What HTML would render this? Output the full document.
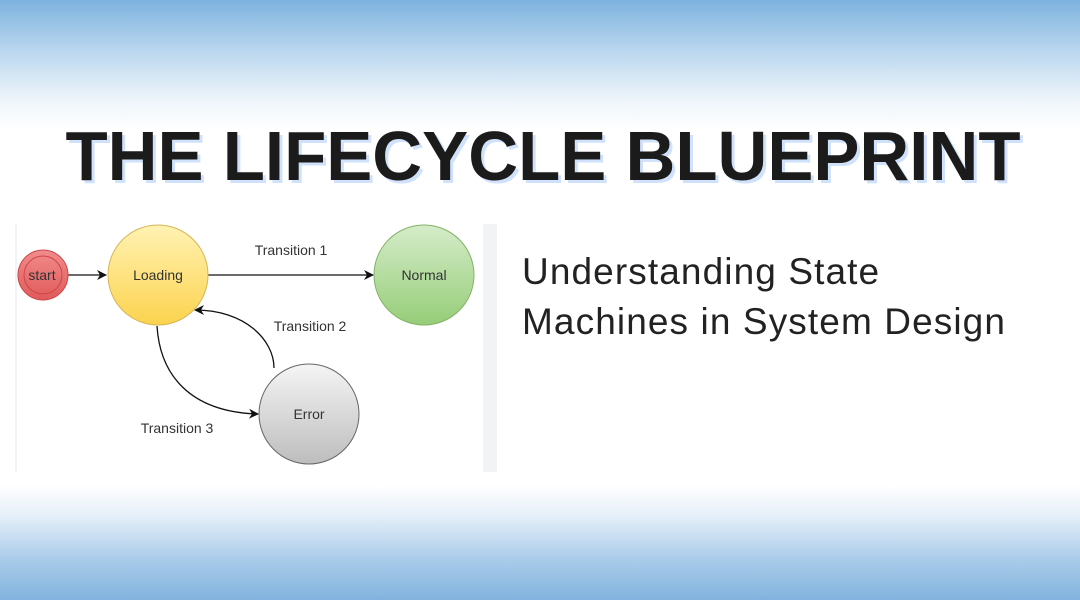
<!DOCTYPE html>
<html><head><meta charset="utf-8"><style>
html,body{margin:0;padding:0}
body{width:1080px;height:600px;position:relative;overflow:hidden;font-family:"Liberation Sans",sans-serif;
background:linear-gradient(180deg,#7db2de 0px,#b9d6ee 50px,#eef5fb 100px,#ffffff 130px,#ffffff 485px,#e6f0f9 515px,#a9cbe9 560px,#82b3de 600px);}
.sub{position:absolute;left:522px;top:247px;font-size:37px;line-height:50px;color:#222;letter-spacing:1.1px}
</style></head><body>
<svg width="1080" height="600" style="position:absolute;left:0;top:0">
<defs>
<linearGradient id="y" x1="0" y1="0" x2="0" y2="1"><stop offset="0" stop-color="#fff2b3"/><stop offset="1" stop-color="#fcd34f"/></linearGradient>
<linearGradient id="g" x1="0" y1="0" x2="0" y2="1"><stop offset="0" stop-color="#d5ecc9"/><stop offset="1" stop-color="#96cd78"/></linearGradient>
<linearGradient id="e" x1="0" y1="0" x2="0" y2="1"><stop offset="0" stop-color="#f5f5f5"/><stop offset="1" stop-color="#bdbdbd"/></linearGradient>
<linearGradient id="r" x1="0" y1="0" x2="0" y2="1"><stop offset="0" stop-color="#f28c8c"/><stop offset="1" stop-color="#e05a5a"/></linearGradient>
<marker id="a" markerWidth="10" markerHeight="10" refX="9" refY="5" orient="auto" markerUnits="userSpaceOnUse"><path d="M0,0 L10,5 L0,10 L3,5z" fill="#111"/></marker>
</defs>
<text x="543" y="180" text-anchor="middle" font-size="70" font-weight="bold" fill="#cfe1fb" textLength="955" lengthAdjust="spacingAndGlyphs" transform="translate(3,3)">THE LIFECYCLE BLUEPRINT</text>
<text x="543" y="180" text-anchor="middle" font-size="70" font-weight="bold" fill="#1b1b1b" textLength="955" lengthAdjust="spacingAndGlyphs">THE LIFECYCLE BLUEPRINT</text>
<rect x="15" y="224" width="482" height="248" fill="#f1f3f5"/>
<rect x="17" y="224" width="466" height="248" fill="#ffffff"/>
<g stroke="#111" stroke-width="1.3" fill="none">
<line x1="68" y1="275" x2="106" y2="275" marker-end="url(#a)"/>
<line x1="208" y1="275" x2="373" y2="275" marker-end="url(#a)"/>
<path d="M274,368 C274,340 245,310 195,310" marker-end="url(#a)"/>
<path d="M157,326 C160,375 190,412 258,414" marker-end="url(#a)"/>
</g>
<circle cx="43" cy="275" r="25" fill="url(#r)" stroke="#c44" stroke-width="1"/>
<circle cx="43" cy="275" r="19" fill="none" stroke="#c44" stroke-width="1"/>
<circle cx="158" cy="275" r="50" fill="url(#y)" stroke="#d6b656" stroke-width="1"/>
<circle cx="424" cy="275" r="50" fill="url(#g)" stroke="#82b366" stroke-width="1"/>
<circle cx="309" cy="414" r="50" fill="url(#e)" stroke="#666" stroke-width="1"/>
<g font-size="14" fill="#333" text-anchor="middle">
<text x="42" y="280">start</text>
<text x="158" y="280">Loading</text>
<text x="424" y="280">Normal</text>
<text x="309" y="419">Error</text>
<text x="291" y="255">Transition 1</text>
<text x="310" y="331">Transition 2</text>
<text x="177" y="433">Transition 3</text>
</g>
</svg>
<div class="sub">Understanding State<br>Machines in System Design</div>
</body></html>
